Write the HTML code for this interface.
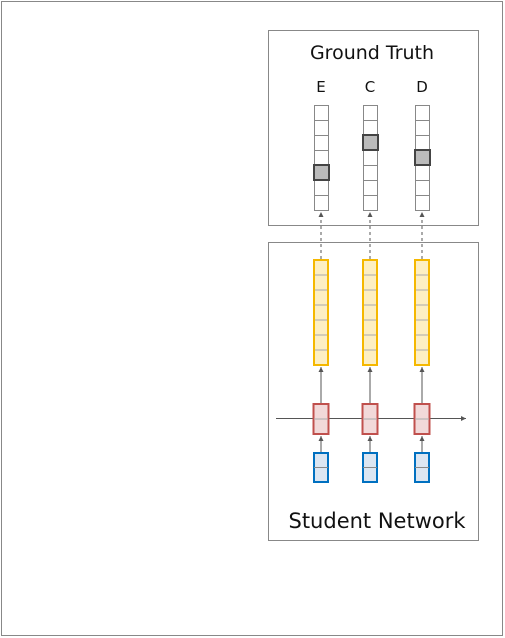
<!DOCTYPE html>
<html><head><meta charset="utf-8"><style>
body{margin:0;background:#fff;width:505px;height:638px;overflow:hidden}
svg{display:block}
text{font-family:"DejaVu Sans","Liberation Sans",sans-serif;fill:#111}
</style></head><body>
<svg id="s" width="505" height="638">
<defs><marker id="ah" markerWidth="6" markerHeight="6" refX="5" refY="3" orient="auto"><path d="M0,0.5 L5,3 L0,5.5 z" fill="#555"/></marker></defs>
<rect x="1.5" y="1.5" width="501" height="634" fill="none" stroke="#888"/>
<rect x="268.5" y="30.5" width="210" height="195" fill="none" stroke="#888"/>
<text x="372" y="59" font-size="19" text-anchor="middle">Ground Truth</text>
<rect x="268.5" y="242.5" width="210" height="298" fill="none" stroke="#888"/>
<text x="377" y="528" font-size="21" text-anchor="middle">Student Network</text>
<g id="g"></g>
</svg>
<script>
const labels=["E","C","D"];
const truthIndex=[4,2,3];
const nCells=7;
const xs=[321,370,422];
const g=document.getElementById('g');
const NS='http://www.w3.org/2000/svg';
function el(t,a){const e=document.createElementNS(NS,t);for(const k in a)e.setAttribute(k,a[k]);g.appendChild(e);return e;}
let h=el('line',{x1:276,y1:418.5,x2:466,y2:418.5,stroke:'#555','stroke-width':1,'marker-end':'url(#ah)'});


labels.forEach((lab,i)=>{
  const cx=xs[i],x0=cx-7;
  const t=el('text',{x:cx,y:92,'font-size':15,'text-anchor':'middle'});t.textContent=lab;
  
  
  for(let k=0;k<nCells;k++){
    const c=el('rect',{x:x0+0.5,y:105.5+k*15,width:14,height:15,fill:'#fff',stroke:'#888','stroke-width':1});
    
    
  }
  const hi=el('rect',{x:x0,y:105+truthIndex[i]*15,width:15,height:15,fill:'#bbb',stroke:'#444','stroke-width':2});
  
  
  const d=el('line',{x1:cx,y1:259,x2:cx,y2:212,stroke:'#555','stroke-dasharray':'3,3','marker-end':'url(#ah)'});
  
  
  const y=el('rect',{x:x0,y:260,width:14,height:105,fill:'#fdefc3',stroke:'#f5b800','stroke-width':2});
  
  
  for(let k=1;k<nCells;k++){
    const l=el('line',{x1:x0+1,x2:x0+13,y1:260+k*15,y2:260+k*15,stroke:'#aaa'});
    
    
  }
  const a=el('line',{x1:cx,y1:403,x2:cx,y2:367,stroke:'#555','marker-end':'url(#ah)'});
  
  
  const r=el('rect',{x:x0-0.5,y:404,width:15,height:30,fill:'#f2d9d9',stroke:'#c0504d','stroke-width':2});
  
  
  const rl=el('line',{x1:x0,x2:x0+14,y1:419,y2:419,stroke:'#aaa'});
  
  
  const a2=el('line',{x1:cx,y1:452,x2:cx,y2:436,stroke:'#555','marker-end':'url(#ah)'});
  
  
  const b=el('rect',{x:x0,y:453,width:14,height:29,fill:'#dce6f2',stroke:'#0070c0','stroke-width':2});
  
  
  const bl=el('line',{x1:x0,x2:x0+14,y1:467.5,y2:467.5,stroke:'#888'});
  
  
});
</script>
</body></html>
